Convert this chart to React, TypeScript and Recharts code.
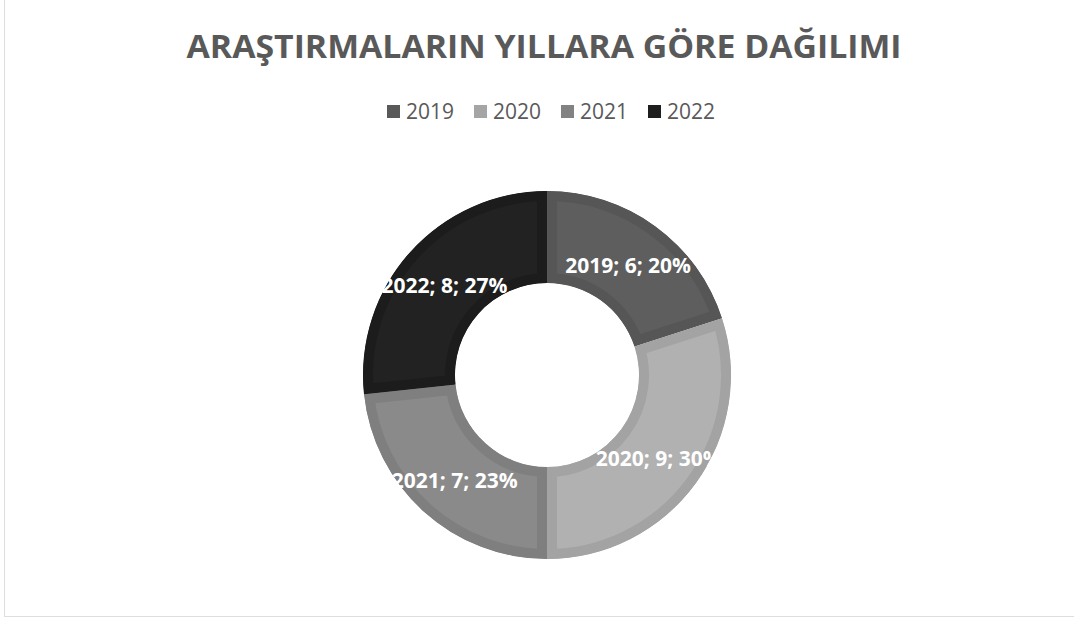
import { PieChart, Pie, Cell, Legend, Sector } from "recharts";

// Research counts per year
const YEARS = ["2019", "2020", "2021", "2022"];
const COUNTS = [6, 9, 7, 8];

// Slice fills and the slightly darker bevel band around each slice
const FILLS = ["#5e5e5e", "#b1b1b1", "#8a8a8a", "#222222"];
const BORDERS = ["#565656", "#a3a3a3", "#7f7f7f", "#1c1c1c"];
const LEGEND_COLORS = ["#595959", "#a5a5a5", "#828282", "#1e1e1e"];

const TITLE = "ARAŞTIRMALARIN YILLARA GÖRE DAĞILIMI";

const chartData = YEARS.map((year, i) => ({ year, count: COUNTS[i] }));

const RADIAN = Math.PI / 180;

function BevelSector(props: any) {
  const { cx, cy, innerRadius, outerRadius, startAngle, endAngle, fill } = props;
  const idx = YEARS.indexOf(props.payload?.year ?? props.year ?? props.name);
  const clipId = `bevel-clip-${idx}`;
  const geom = { cx, cy, innerRadius, outerRadius, startAngle, endAngle };
  return (
    <g>
      <defs>
        <clipPath id={clipId}>
          <Sector {...geom} />
        </clipPath>
      </defs>
      <Sector
        {...geom}
        fill={fill}
        stroke={BORDERS[idx] ?? fill}
        strokeWidth={20}
        clipPath={`url(#${clipId})`}
      />
    </g>
  );
}

function renderLabel(props: any) {
  const { cx, cy, midAngle, innerRadius, outerRadius, value, percent, payload } = props;
  const r = (innerRadius + outerRadius) / 2;
  const x = cx + r * Math.cos(-midAngle * RADIAN);
  const y = cy + r * Math.sin(-midAngle * RADIAN);
  return (
    <text
      x={x}
      y={y + 2}
      fill="#ffffff"
      textAnchor="middle"
      dominantBaseline="central"
      style={{ fontFamily: "'Open Sans', sans-serif", fontWeight: 700, fontSize: 21 }}
    >
      {`${payload.year}; ${value}; ${Math.round(percent * 100)}%`}
    </text>
  );
}

function LegendContent({ payload }: any) {
  return (
    <div style={{ display: "flex", justifyContent: "center", gap: 20 }}>
      {(payload || []).map((entry: any, i: number) => (
        <div key={entry.value} style={{ display: "flex", alignItems: "center" }}>
          <span
            style={{
              display: "inline-block",
              width: 13,
              height: 13,
              background: LEGEND_COLORS[i],
              marginRight: 6,
            }}
          />
          <span
            style={{
              fontFamily: "'Open Sans', sans-serif",
              fontSize: 21,
              color: "#595959",
              lineHeight: "24px",
            }}
          >
            {entry.value}
          </span>
        </div>
      ))}
    </div>
  );
}

export default function App() {
  return (
    <div
      style={{
        position: "absolute",
        left: 0,
        top: 0,
        width: 1074,
        height: 619,
        background: "#ffffff",
        overflow: "hidden",
      }}
    >
      <div
        style={{
          position: "absolute",
          left: 4,
          top: -2,
          width: 1090,
          height: 619,
          border: "1px solid #dedede",
          boxSizing: "border-box",
        }}
      />
      <PieChart width={1074} height={619} margin={{ top: 0, right: 0, bottom: 0, left: 0 }}>
        <text
          x={544}
          y={58}
          textAnchor="middle"
          textLength={715}
          lengthAdjust="spacingAndGlyphs"
          fill="#595959"
          style={{ fontFamily: "'Open Sans', sans-serif", fontWeight: 700, fontSize: 32 }}
        >
          {TITLE}
        </text>
        <Legend
          verticalAlign="middle"
          align="center"
          content={<LegendContent />}
          wrapperStyle={{ top: 99, left: 14, width: 1074 }}
        />
        <Pie
          data={chartData}
          dataKey="count"
          nameKey="year"
          cx={547}
          cy={375}
          innerRadius={92}
          outerRadius={184}
          startAngle={90}
          endAngle={-270}
          stroke="none"
          labelLine={false}
          label={renderLabel}
          shape={BevelSector}
          isAnimationActive={false}
        >
          {chartData.map((d, i) => (
            <Cell key={d.year} fill={FILLS[i]} />
          ))}
        </Pie>
      </PieChart>
    </div>
  );
}
